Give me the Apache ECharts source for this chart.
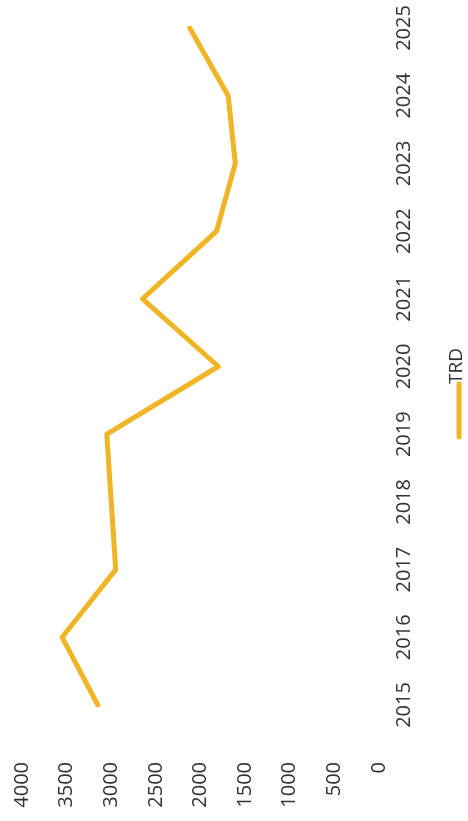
<!DOCTYPE html>
<html>
<head>
<meta charset="utf-8">
<script src="https://cdn.jsdelivr.net/npm/echarts@6/dist/echarts.min.js"></script>
<style>
  html, body { margin: 0; padding: 0; background: #fff; }
  #line { width: 468px; height: 821px; }
</style>
</head>
<body>
<div id="line"></div>
<script>
var years = ["2015", "2016", "2017", "2018", "2019", "2020", "2021", "2022", "2023", "2024", "2025"];
var trd = [3150, 3550, 2950, 3000, 3050, 1800, 2650, 1820, 1610, 1690, 2120];
var seriesName = "TRD";
var valueTicks = { min: 0, max: 4000, interval: 500 };

var lineColor = "#EFB526";
var textColor = "#333";
var font = "Open Sans";

var myChart = echarts.init(document.getElementById("line"));
var option = {
  animation: false,
  grid: {
    left: 22,
    right: 89,
    top: 28,
    bottom: 116,
  },
  xAxis: {
    type: "value",
    inverse: true,
    min: valueTicks.min,
    max: valueTicks.max,
    interval: valueTicks.interval,
    position: "bottom",
    axisLine: { show: false },
    axisTick: { show: false },
    splitLine: { show: false },
    axisLabel: {
      rotate: 90,
      margin: 57,
      fontSize: 20,
      fontFamily: font,
      color: textColor,
      formatter: function (v) {
        return String(v);
      },
    },
  },
  yAxis: {
    type: "category",
    data: years,
    boundaryGap: false,
    position: "right",
    axisLine: { show: false },
    axisTick: { show: false },
    splitLine: { show: false },
    axisLabel: {
      rotate: 90,
      margin: 15,
      fontSize: 20,
      fontFamily: font,
      color: textColor,
    },
  },
  series: [
    {
      name: seriesName,
      type: "line",
      data: trd,
      symbol: "none",
      lineStyle: {
        color: lineColor,
        width: 5,
        cap: "round",
        join: "round",
      },
    },
  ],
  graphic: [
    {
      type: "line",
      shape: { x1: 459, y1: 384, x2: 459, y2: 437 },
      style: { stroke: lineColor, lineWidth: 5, lineCap: "round" },
    },
    {
      type: "text",
      x: 457,
      y: 366,
      rotation: Math.PI / 2,
      style: {
        text: seriesName,
        fontSize: 19,
        fontFamily: font,
        fill: textColor,
        align: "center",
        verticalAlign: "middle",
      },
    },
  ],
};
myChart.setOption(option);
</script>
</body>
</html>
